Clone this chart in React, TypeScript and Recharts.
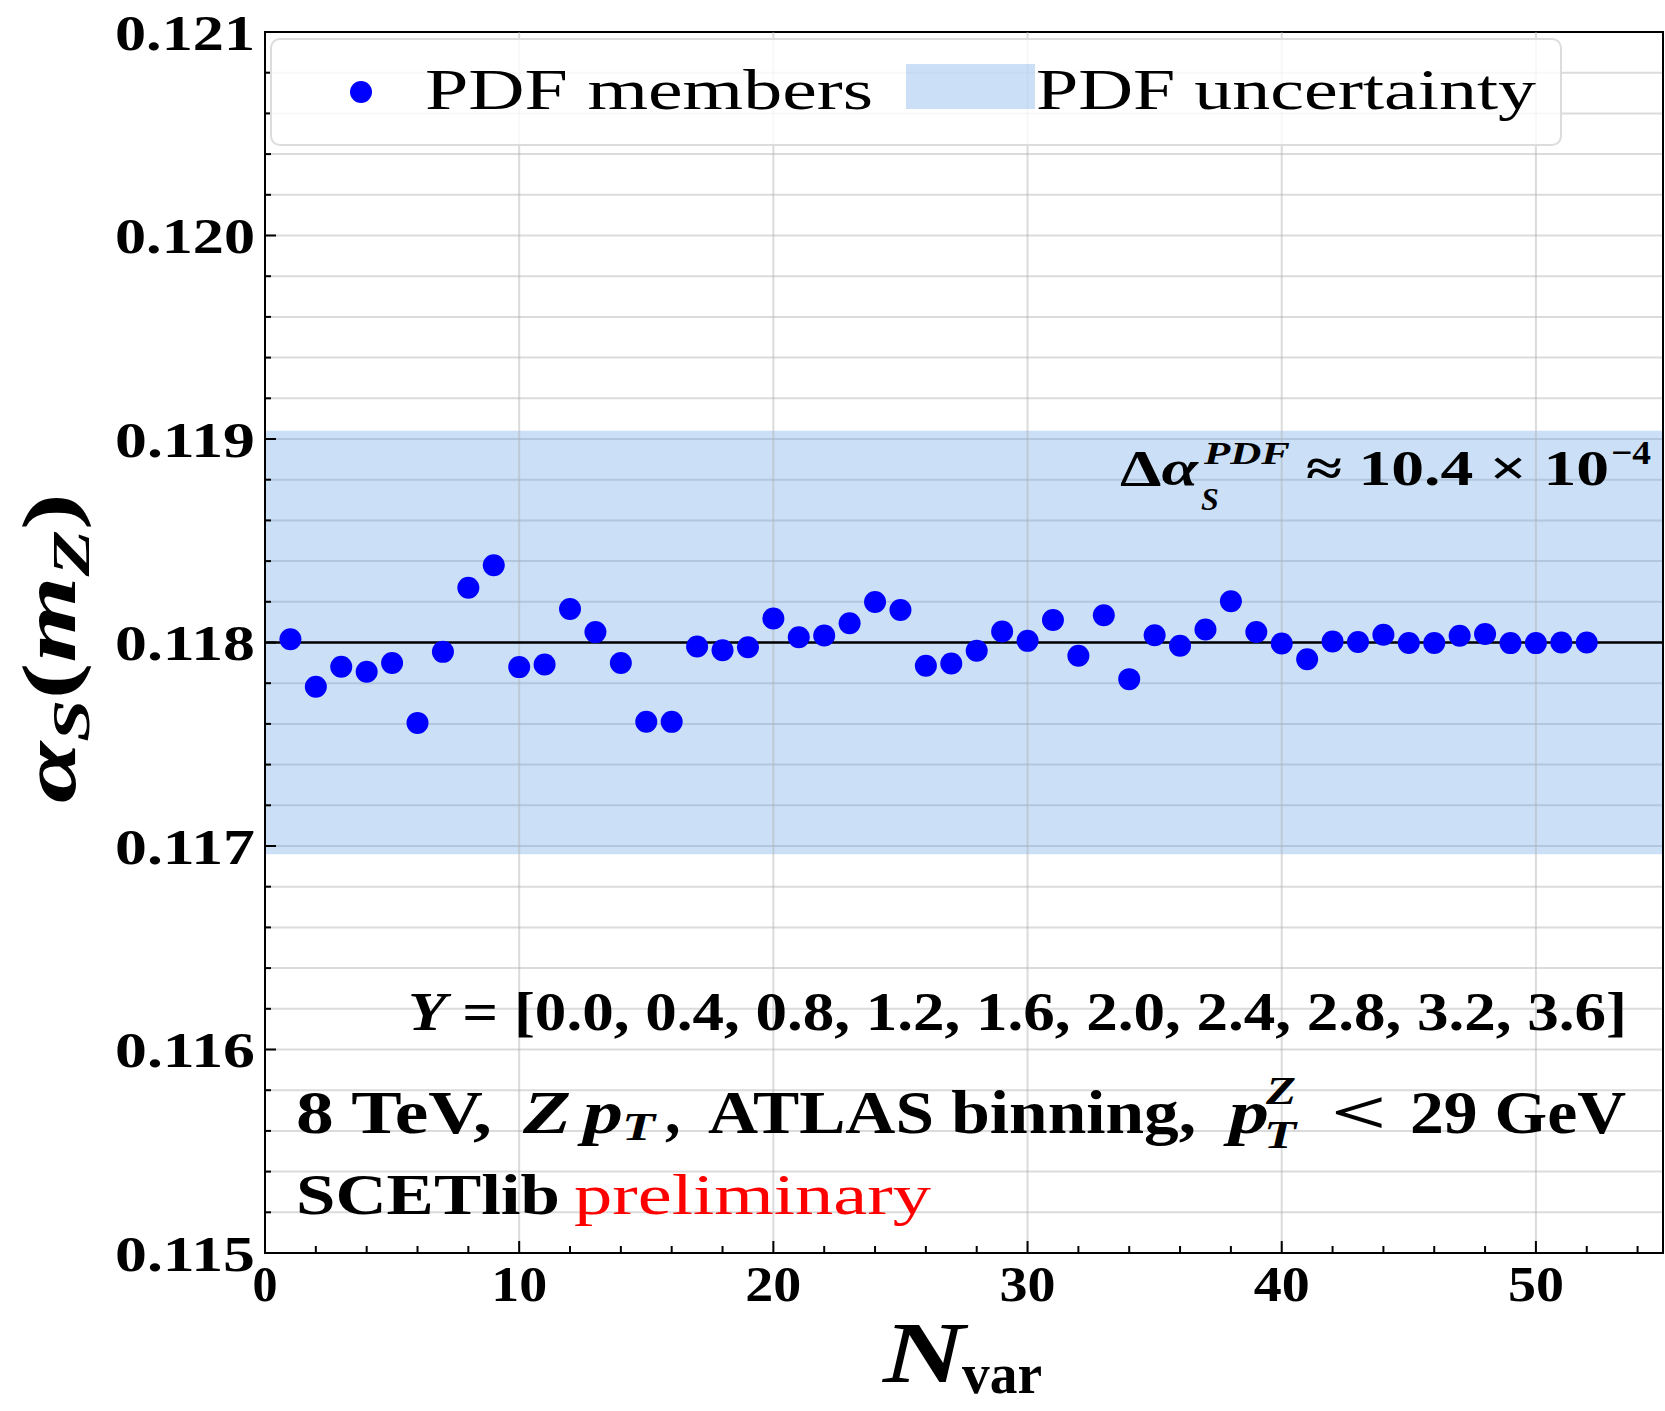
import React from "react";
import {
  ScatterChart,
  Scatter,
  XAxis,
  YAxis,
  CartesianGrid,
  ReferenceArea,
  ReferenceLine,
} from "recharts";

// replica index of each PDF member
const N_VAR = [
  1, 2, 3, 4, 5, 6, 7, 8, 9, 10, 11, 12, 13, 14, 15, 16, 17, 18, 19, 20, 21, 22, 23, 24, 25, 26,
  27, 28, 29, 30, 31, 32, 33, 34, 35, 36, 37, 38, 39, 40, 41, 42, 43, 44, 45, 46, 47, 48, 49, 50,
  51, 52,
];

// fitted alpha_s(m_Z) for each member
const ALPHA_S = [
  0.118016, 0.117783, 0.117881, 0.117856, 0.117899, 0.117605, 0.117954, 0.118269, 0.11838,
  0.117879, 0.117892, 0.118165, 0.118051, 0.117899, 0.117611, 0.11761, 0.11798, 0.117962,
  0.117977, 0.118118, 0.118026, 0.118034, 0.118095, 0.118199, 0.11816, 0.117886, 0.117897,
  0.117959, 0.118054, 0.118008, 0.118111, 0.117935, 0.118134, 0.11782, 0.118036, 0.117984,
  0.118064, 0.118203, 0.118052, 0.117995, 0.117918, 0.118005, 0.118002, 0.118038, 0.117998,
  0.117998, 0.118033, 0.118042, 0.117997, 0.117997, 0.118, 0.118,
];

const ALPHA_CENTRAL = 0.118;
const PDF_UNC = 0.00104;

const X_DOMAIN = [0, 55];
const X_TICKS = [0, 2, 4, 6, 8, 10, 12, 14, 16, 18, 20, 22, 24, 26, 28, 30, 32, 34, 36, 38, 40, 42, 44, 46, 48, 50, 52, 54];
const X_GRID = [10, 20, 30, 40, 50];

const Y_DOMAIN = [0.115, 0.121];
const Y_TICKS = [
  0.115, 0.1152, 0.1154, 0.1156, 0.1158, 0.116, 0.1162, 0.1164, 0.1166, 0.1168, 0.117, 0.1172,
  0.1174, 0.1176, 0.1178, 0.118, 0.1182, 0.1184, 0.1186, 0.1188, 0.119, 0.1192, 0.1194, 0.1196,
  0.1198, 0.12, 0.1202, 0.1204, 0.1206, 0.1208, 0.121,
];

const Y_VALUES = [0.0, 0.4, 0.8, 1.2, 1.6, 2.0, 2.4, 2.8, 3.2, 3.6];

const W = 1665;
const H = 1411;
const PLOT_L = 265;
const PLOT_B = 1253;

const SERIF = '"Liberation Serif", "Times New Roman", serif';
const BAND = "#5298e1";
const MARKER = "#0000ff";
const GRID = "#b0b0b0";

const points = N_VAR.map((n, i) => ({ n, a: ALPHA_S[i] }));

const XTick = (props: any) => {
  const { x, payload } = props;
  const v = payload.value as number;
  const major = v % 10 === 0;
  return (
    <g>
      <line x1={x} x2={x} y1={PLOT_B} y2={PLOT_B - (major ? 12 : 7)} stroke="#000" strokeWidth={2} />
      {major && (
        <text
          x={x}
          y={PLOT_B + 48}
          textAnchor="middle"
          fontFamily={SERIF}
          fontWeight="bold"
          fontSize={50}
          fill="#000"
          textLength={v >= 10 ? 56 : undefined}
          lengthAdjust="spacingAndGlyphs"
        >
          {v}
        </text>
      )}
    </g>
  );
};

const YTick = (props: any) => {
  const { y, payload } = props;
  const v = payload.value as number;
  const major = Math.abs(v * 1000 - Math.round(v * 1000)) < 1e-6;
  return (
    <g>
      <line x1={PLOT_L} x2={PLOT_L + (major ? 11 : 6)} y1={y} y2={y} stroke="#000" strokeWidth={2} />
      {major && (
        <text
          x={255}
          y={y}
          dy="0.35em"
          textAnchor="end"
          fontFamily={SERIF}
          fontWeight="bold"
          fontSize={50}
          fill="#000"
          textLength={140}
          lengthAdjust="spacingAndGlyphs"
        >
          {v.toFixed(3)}
        </text>
      )}
    </g>
  );
};

const MemberDot = (p: any) => <circle cx={p.cx} cy={p.cy} r={11} fill={MARKER} />;

function Annotations() {
  const txt = { fontFamily: SERIF, fill: "#000" } as const;
  return (
    <svg
      width={W}
      height={H}
      style={{ position: "absolute", left: 0, top: 0, pointerEvents: "none" }}
    >
      {/* legend */}
      <rect x={271} y={39} width={1290} height={106} rx={9} fill="#fff" fillOpacity={0.8} stroke="#dcdcdc" strokeWidth={2} />
      <circle cx={361} cy={92} r={11} fill={MARKER} />
      <text x={425} y={109} fontSize={58} textLength={448} lengthAdjust="spacingAndGlyphs" {...txt}>
        PDF members
      </text>
      <rect x={906} y={64} width={129} height={45} fill={BAND} fillOpacity={0.3} />
      <text x={1036} y={109} fontSize={58} textLength={500} lengthAdjust="spacingAndGlyphs" {...txt}>
        PDF uncertainty
      </text>

      {/* PDF uncertainty size */}
      <text x={1120} y={485} fontSize={50} fontWeight="bold" textLength={78} lengthAdjust="spacingAndGlyphs" {...txt}>
        Δ<tspan fontStyle="italic">α</tspan>
      </text>
      <text x={1201} y={510} fontSize={32} fontWeight="bold" fontStyle="italic" {...txt}>
        S
      </text>
      <text x={1204} y={464} fontSize={31} fontWeight="bold" fontStyle="italic" textLength={86} lengthAdjust="spacingAndGlyphs" {...txt}>
        PDF
      </text>
      <text x={1306} y={485} fontSize={50} fontWeight="bold" textLength={303} lengthAdjust="spacingAndGlyphs" {...txt}>
        ≈ 10.4 × 10
      </text>
      <text x={1611} y={464} fontSize={34} fontWeight="bold" textLength={40} lengthAdjust="spacingAndGlyphs" {...txt}>
        −4
      </text>

      {/* rapidity bins */}
      <text x={408} y={1030} fontSize={55} fontWeight="bold" textLength={1219} lengthAdjust="spacingAndGlyphs" {...txt}>
        <tspan fontStyle="italic">Y</tspan> = [{Y_VALUES.map((v) => v.toFixed(1)).join(", ")}]
      </text>

      {/* process line */}
      <text x={296} y={1133} fontSize={62} fontWeight="bold" textLength={196} lengthAdjust="spacingAndGlyphs" {...txt}>
        8 TeV,
      </text>
      <text x={523} y={1133} fontSize={62} fontWeight="bold" fontStyle="italic" textLength={48} lengthAdjust="spacingAndGlyphs" {...txt}>
        Z
      </text>
      <text x={583} y={1133} fontSize={62} fontWeight="bold" fontStyle="italic" textLength={40} lengthAdjust="spacingAndGlyphs" {...txt}>
        p
      </text>
      <text x={622} y={1140} fontSize={40} fontWeight="bold" fontStyle="italic" textLength={33} lengthAdjust="spacingAndGlyphs" {...txt}>
        T
      </text>
      <text x={665} y={1133} fontSize={62} fontWeight="bold" {...txt}>
        ,
      </text>
      <text x={708} y={1133} fontSize={62} fontWeight="bold" textLength={488} lengthAdjust="spacingAndGlyphs" {...txt}>
        ATLAS binning,
      </text>
      <text x={1229} y={1133} fontSize={62} fontWeight="bold" fontStyle="italic" textLength={40} lengthAdjust="spacingAndGlyphs" {...txt}>
        p
      </text>
      <text x={1264} y={1148} fontSize={40} fontWeight="bold" fontStyle="italic" textLength={32} lengthAdjust="spacingAndGlyphs" {...txt}>
        T
      </text>
      <text x={1266} y={1104} fontSize={40} fontWeight="bold" fontStyle="italic" textLength={30} lengthAdjust="spacingAndGlyphs" {...txt}>
        Z
      </text>
      <text x={1331} y={1133} fontSize={62} fontWeight="bold" textLength={56} lengthAdjust="spacingAndGlyphs" {...txt}>
        {"<"}
      </text>
      <text x={1410} y={1133} fontSize={62} fontWeight="bold" textLength={216} lengthAdjust="spacingAndGlyphs" {...txt}>
        29 GeV
      </text>

      {/* tag */}
      <text x={296} y={1214} fontSize={57} fontWeight="bold" textLength={264} lengthAdjust="spacingAndGlyphs" {...txt}>
        SCETlib
      </text>
      <text x={574} y={1214} fontSize={57} textLength={357} lengthAdjust="spacingAndGlyphs" fontFamily={SERIF} fill="#ff0000">
        preliminary
      </text>

      {/* axis titles */}
      <g transform="translate(75,648) rotate(-90)">
        <text x={0} y={0} textAnchor="middle" fontSize={76} fontWeight="bold" textLength={310} lengthAdjust="spacingAndGlyphs" {...txt}>
          <tspan fontStyle="italic">α</tspan>
          <tspan fontStyle="italic" fontSize={52} dy={14}>S</tspan>
          <tspan dy={-14}>(</tspan>
          <tspan fontStyle="italic">m</tspan>
          <tspan fontStyle="italic" fontSize={52} dy={14}>Z</tspan>
          <tspan dy={-14}>)</tspan>
        </text>
      </g>
      <text x={883} y={1382} fontSize={86} fontWeight="bold" fontStyle="italic" textLength={82} lengthAdjust="spacingAndGlyphs" {...txt}>
        N
      </text>
      <text x={962} y={1393} fontSize={58} fontWeight="bold" textLength={80} lengthAdjust="spacingAndGlyphs" {...txt}>
        var
      </text>
    </svg>
  );
}

export default function App() {
  return (
    <div style={{ position: "absolute", left: 0, top: 0, width: W, height: H, background: "#fff" }}>
      <ScatterChart width={W} height={H} margin={{ top: 32, right: 2, left: 0, bottom: 0 }}>
        <CartesianGrid vertical={false} stroke={GRID} strokeOpacity={0.45} strokeWidth={2} />
        <XAxis
          type="number"
          dataKey="n"
          domain={X_DOMAIN}
          ticks={X_TICKS}
          interval={0}
          allowDataOverflow
          axisLine={false}
          tickLine={false}
          tick={<XTick />}
          height={158}
        />
        <YAxis
          type="number"
          dataKey="a"
          domain={Y_DOMAIN}
          ticks={Y_TICKS}
          interval={0}
          allowDataOverflow
          axisLine={false}
          tickLine={false}
          tick={<YTick />}
          width={265}
        />
        <ReferenceArea
          y1={ALPHA_CENTRAL - PDF_UNC}
          y2={ALPHA_CENTRAL + PDF_UNC}
          fill={BAND}
          fillOpacity={0.3}
          stroke="none"
        />
        {X_GRID.map((v) => (
          <ReferenceLine key={v} x={v} stroke={GRID} strokeOpacity={0.45} strokeWidth={2} />
        ))}
        <ReferenceLine y={ALPHA_CENTRAL} stroke="#000" strokeWidth={2.5} />
        <Scatter data={points} shape={MemberDot} isAnimationActive={false} />
        <ReferenceArea
          x1={X_DOMAIN[0]}
          x2={X_DOMAIN[1]}
          y1={Y_DOMAIN[0]}
          y2={Y_DOMAIN[1]}
          fill="none"
          stroke="#000"
          strokeWidth={2}
          fillOpacity={0}
        />
      </ScatterChart>
      <Annotations />
    </div>
  );
}
